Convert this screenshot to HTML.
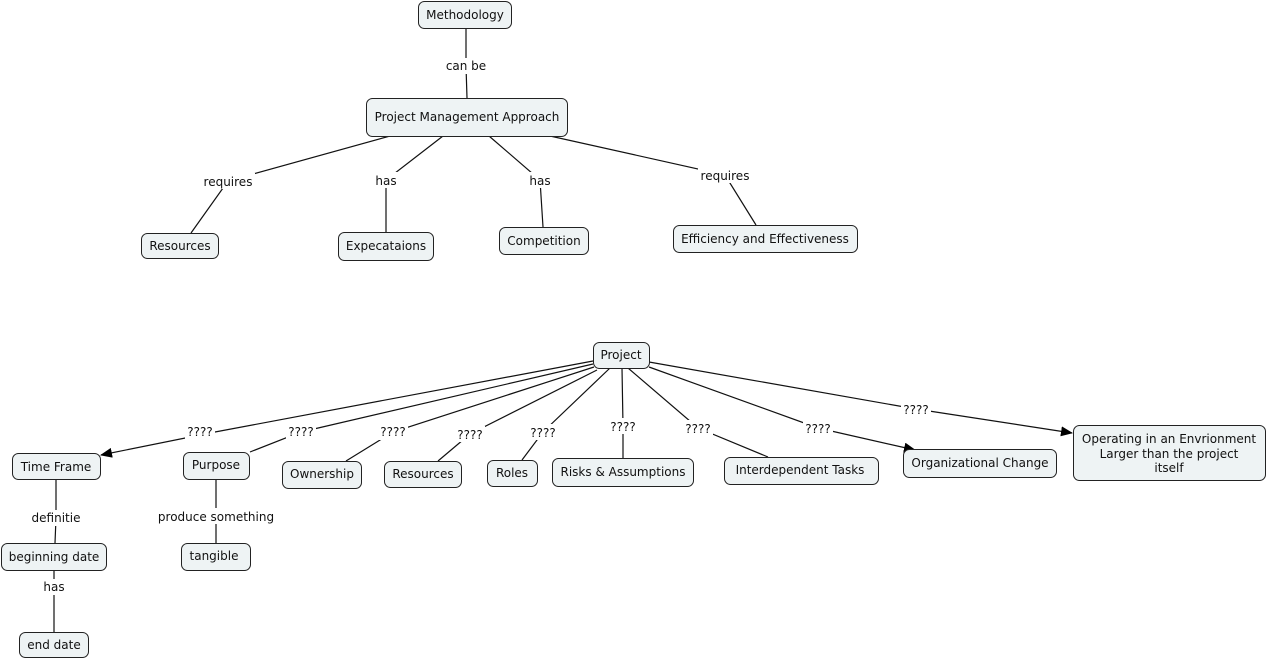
<!DOCTYPE html>
<html><head><meta charset="utf-8"><style>
html,body{margin:0;padding:0;background:#fff;}
svg{display:block;font-family:"DejaVu Sans","Liberation Sans",sans-serif;font-size:12px;}
.n{fill:#eef3f4;stroke:#222;stroke-width:1;}
.l{stroke:#111;stroke-width:1.2;fill:none;}
.lb{fill:#fff;}
text{fill:#111;}
</style></head><body>
<svg width="1266" height="659" viewBox="0 0 1266 659" xmlns="http://www.w3.org/2000/svg">
<defs><marker id="a" markerWidth="12" markerHeight="10" refX="11" refY="5" orient="auto" markerUnits="userSpaceOnUse"><path d="M0,0 L12,5 L0,10 z" fill="#000"/></marker></defs>
<g class="l">
<polyline points="466,28 466,66 467,98"/>
<polyline points="390,136 228,181 191,233"/>
<polyline points="443,136 386,180 386,232"/>
<polyline points="489,136 540,180 543,227"/>
<polyline points="550,136 725,175 756,225"/>
<polyline points="593,361 215,432 101,455" marker-end="url(#a)"/>
<polyline points="593,364 301,432 250,452"/>
<polyline points="594,367 393,432 346,461"/>
<polyline points="597,370 470,434 438,461"/>
<polyline points="610,368 543,432 522,460"/>
<polyline points="622,368 623,426 623,458"/>
<polyline points="628,368 698,428 768,457"/>
<polyline points="649,367 818,428 915,450" marker-end="url(#a)"/>
<polyline points="649,362 916,409 1072,433" marker-end="url(#a)"/>
<polyline points="56,479 56,518 55,543"/>
<polyline points="216,479 216,516 216,543"/>
<polyline points="54,570 54,587 54,632"/>
</g>
<g text-anchor="middle">
<rect class="lb" x="443" y="58" width="46" height="16"/><text x="466" y="70">can be</text>
<rect class="lb" x="201" y="173" width="54" height="16"/><text x="228" y="186">requires</text>
<rect class="lb" x="372" y="172" width="28" height="16"/><text x="386" y="185">has</text>
<rect class="lb" x="526" y="172" width="28" height="16"/><text x="540" y="185">has</text>
<rect class="lb" x="698" y="167" width="54" height="16"/><text x="725" y="180">requires</text>
<rect class="lb" x="185" y="424" width="30" height="16"/><text x="200" y="436">????</text>
<rect class="lb" x="286" y="424" width="30" height="16"/><text x="301" y="436">????</text>
<rect class="lb" x="378" y="424" width="30" height="16"/><text x="393" y="436">????</text>
<rect class="lb" x="455" y="426" width="30" height="16"/><text x="470" y="439">????</text>
<rect class="lb" x="528" y="424" width="30" height="16"/><text x="543" y="437">????</text>
<rect class="lb" x="608" y="418" width="30" height="16"/><text x="623" y="431">????</text>
<rect class="lb" x="683" y="420" width="30" height="16"/><text x="698" y="433">????</text>
<rect class="lb" x="803" y="420" width="30" height="16"/><text x="818" y="433">????</text>
<rect class="lb" x="901" y="401" width="30" height="16"/><text x="916" y="414">????</text>
<rect class="lb" x="30" y="510" width="52" height="16"/><text x="56" y="522">definitie</text>
<rect class="lb" x="157" y="508" width="118" height="16"/><text x="216" y="521">produce something</text>
<rect class="lb" x="41" y="579" width="26" height="16"/><text x="54" y="591">has</text>
</g>
<g>
<rect class="n" x="418.5" y="1.5" width="93" height="27" rx="6"/>
<rect class="n" x="366.5" y="98.5" width="201" height="38" rx="6"/>
<rect class="n" x="141.5" y="233.5" width="77" height="25" rx="6"/>
<rect class="n" x="338.5" y="232.5" width="95" height="28" rx="6"/>
<rect class="n" x="499.5" y="227.5" width="89" height="27" rx="6"/>
<rect class="n" x="673.5" y="225.5" width="184" height="27" rx="6"/>
<rect class="n" x="593.5" y="342.5" width="56" height="26" rx="6"/>
<rect class="n" x="12.5" y="453.5" width="88" height="26" rx="6"/>
<rect class="n" x="183.5" y="452.5" width="66" height="27" rx="6"/>
<rect class="n" x="282.5" y="461.5" width="79" height="27" rx="6"/>
<rect class="n" x="384.5" y="461.5" width="77" height="26" rx="6"/>
<rect class="n" x="487.5" y="460.5" width="50" height="26" rx="6"/>
<rect class="n" x="552.5" y="458.5" width="141" height="28" rx="6"/>
<rect class="n" x="724.5" y="457.5" width="154" height="27" rx="6"/>
<rect class="n" x="903.5" y="449.5" width="153" height="28" rx="6"/>
<rect class="n" x="1073.5" y="425.5" width="192" height="55" rx="6"/>
<rect class="n" x="1.5" y="543.5" width="105" height="27" rx="6"/>
<rect class="n" x="181.5" y="543.5" width="69" height="27" rx="6"/>
<rect class="n" x="19.5" y="632.5" width="69" height="25" rx="6"/>
</g>
<g text-anchor="middle">
<text x="465" y="19">Methodology</text>
<text x="467" y="121">Project Management Approach</text>
<text x="180" y="250">Resources</text>
<text x="386" y="250">Expecataions</text>
<text x="544" y="245">Competition</text>
<text x="765" y="243">Efficiency and Effectiveness</text>
<text x="621" y="359">Project</text>
<text x="56" y="471">Time Frame</text>
<text x="216" y="469">Purpose</text>
<text x="322" y="478">Ownership</text>
<text x="423" y="478">Resources</text>
<text x="512" y="477">Roles</text>
<text x="623" y="476">Risks &amp; Assumptions</text>
<text x="800" y="474">Interdependent Tasks</text>
<text x="980" y="467">Organizational Change</text>
<text x="1169" y="443">Operating in an Envrionment</text>
<text x="1169" y="458">Larger than the project</text>
<text x="1169" y="472">itself</text>
<text x="54" y="561">beginning date</text>
<text x="214" y="560">tangible</text>
<text x="54" y="649">end date</text>
</g>
</svg>
</body></html>
